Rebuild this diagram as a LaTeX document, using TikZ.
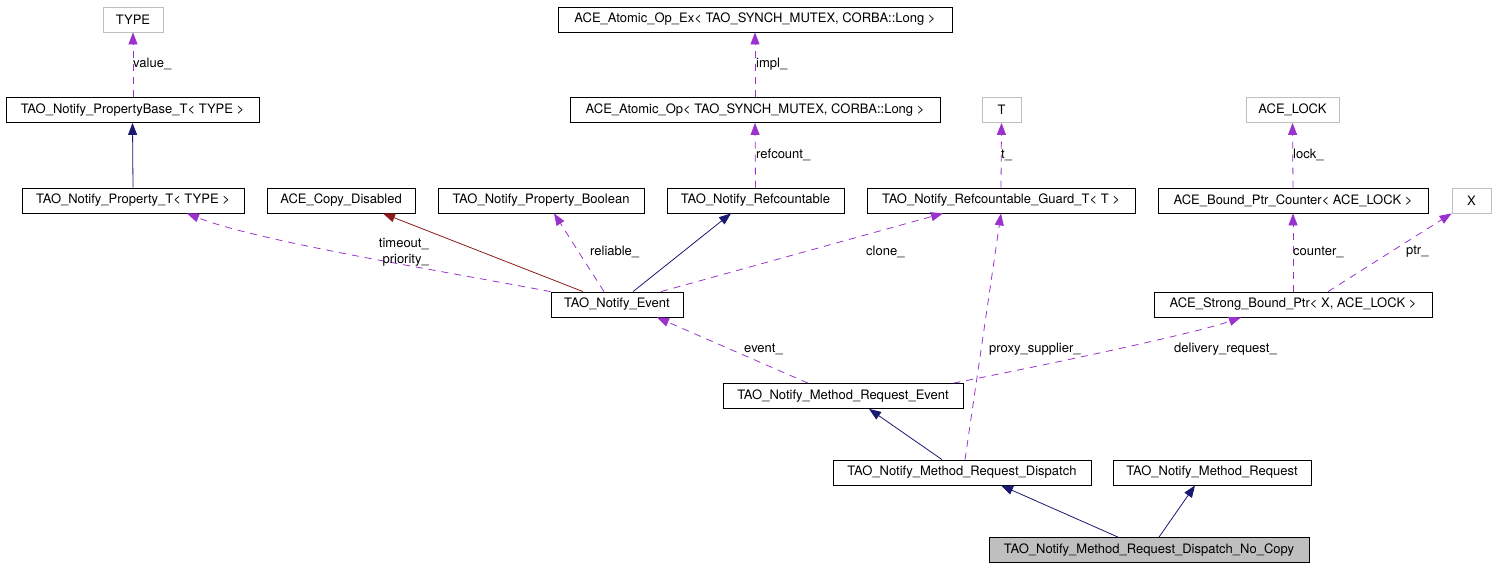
\documentclass[tikz,border=0pt]{standalone}
\usepackage{fontspec}
\setmainfont{TeX Gyre Heros}
\usetikzlibrary{arrows.meta}
\definecolor{usecol}{RGB}{154,50,205}
\definecolor{inhcol}{RGB}{25,25,112}
\definecolor{privcol}{RGB}{139,26,26}
\definecolor{extcol}{RGB}{191,191,191}

\begin{document}
\begin{tikzpicture}[x=1pt,y=-1pt,
        >={Triangle[length=12pt,width=9pt]},
        cls/.style={draw,rectangle,minimum height=25pt,inner sep=0pt,line width=0.8pt,
                font=\fontsize{13}{15}\selectfont},
        ext/.style={cls,draw=extcol},
        usage/.style={->,usecol,line width=0.8pt,dash pattern=on 7pt off 6pt},
        inherit/.style={->,inhcol,line width=0.8pt},
        private/.style={->,privcol,line width=0.8pt},
        lbl/.style={font=\fontsize{13}{16}\selectfont,text=black,inner sep=0pt}]
        \useasboundingbox (0,0) rectangle (1499,568);

        % top row
        \node[ext,minimum width=60pt]  (type) at (133,19.5)  {TYPE};
        \node[cls,minimum width=394pt] (opex) at (755,19.5)  {ACE\_Atomic\_Op\_Ex< TAO\_SYNCH\_MUTEX, CORBA::Long >};

        % second row
        \node[cls,minimum width=253pt] (pbase) at (132.5,110) {TAO\_Notify\_PropertyBase\_T< TYPE >};
        \node[cls,minimum width=370pt] (op)    at (755,110)   {ACE\_Atomic\_Op< TAO\_SYNCH\_MUTEX, CORBA::Long >};
        \node[ext,minimum width=39pt]  (t)     at (1001.5,110) {T};
        \node[ext,minimum width=93pt]  (lock)  at (1292.5,110) {ACE\_LOCK};

        % third row
        \node[cls,minimum width=222pt] (propt)    at (133,200.5)    {TAO\_Notify\_Property\_T< TYPE >};
        \node[cls,minimum width=148pt] (copydis)  at (341,200.5)    {ACE\_Copy\_Disabled};
        \node[cls,minimum width=206pt] (propbool) at (541,200.5)    {TAO\_Notify\_Property\_Boolean};
        \node[cls,minimum width=177pt] (refc)     at (755.5,200.5)  {TAO\_Notify\_Refcountable};
        \node[cls,minimum width=268pt] (guard)    at (1001,200.5)   {TAO\_Notify\_Refcountable\_Guard\_T< T >};
        \node[cls,minimum width=270pt] (counter)  at (1293,200.5)   {ACE\_Bound\_Ptr\_Counter< ACE\_LOCK >};
        \node[ext,minimum width=39pt]  (x)        at (1471.5,200.5) {X};

        % middle
        \node[cls,minimum width=132pt] (event)  at (617,304.5)  {TAO\_Notify\_Event};
        \node[cls,minimum width=278pt] (strong) at (1293,304.5) {ACE\_Strong\_Bound\_Ptr< X, ACE\_LOCK >};
        \node[cls,minimum width=240pt] (mreqev) at (843,396)    {TAO\_Notify\_Method\_Request\_Event};

        % bottom
        \node[cls,minimum width=258pt] (dispatch) at (962,472.5)  {TAO\_Notify\_Method\_Request\_Dispatch};
        \node[cls,minimum width=198pt] (mreq)     at (1212,472.5) {TAO\_Notify\_Method\_Request};
        \node[cls,minimum width=320pt,fill=extcol] (nocopy) at (1149,550) {TAO\_Notify\_Method\_Request\_Dispatch\_No\_Copy};

        % inheritance
        \draw[inherit] (propt.north) -- (pbase.south);
        \draw[inherit] ([xshift=16pt]event.north) -- ([xshift=-24.5pt]refc.south);
        \draw[inherit] ([xshift=-20pt]dispatch.north) -- ([xshift=26pt]mreqev.south);
        \draw[inherit] ([xshift=-31pt]nocopy.north) -- ([xshift=39pt]dispatch.south);
        \draw[inherit] ([xshift=10pt]nocopy.north) -- ([xshift=-17pt]mreq.south);
        \draw[private] ([xshift=-34pt]event.north) -- ([xshift=42pt]copydis.south);

        % usage
        \draw[usage] ([xshift=0.5pt]pbase.north) -- (type.south);
        \draw[usage] (op.north) -- (opex.south);
        \draw[usage] (refc.north) -- (op.south);
        \draw[usage] (guard.north) -- (t.south);
        \draw[usage] (counter.north) -- (lock.south);
        \draw[usage] (strong.north) -- (counter.south);
        \draw[usage] ([xshift=35pt]strong.north) -- (x.south west);
        \draw[usage] (event.north west) .. controls (431,269) and (257,241) .. ([xshift=54pt]propt.south);
        \draw[usage] ([xshift=-13pt]event.north) -- ([xshift=13pt]propbool.south);
        \draw[usage] ([xshift=44pt]event.north) -- ([xshift=-58pt]guard.south);
        \draw[usage] ([xshift=-35pt]mreqev.north) -- ([xshift=40pt]event.south);
        \draw[usage] ([xshift=-10pt]mreqev.north east) .. controls (1030,368) and (1190,335) .. ([xshift=-52pt]strong.south);
        \draw[usage] ([xshift=3pt]dispatch.north) -- (guard.south);

        % labels
        \node[lbl,anchor=west] (lvalue)    at (133,64)   {value\_};
        \node[lbl,anchor=west] (limpl)     at (756,64)   {impl\_};
        \node[lbl,anchor=west] (lrefcount) at (756,155)  {refcount\_};
        \node[lbl,anchor=west] (lt)        at (1001,155) {t\_};
        \node[lbl,anchor=west] (llock)     at (1293,155) {lock\_};
        \node[lbl,anchor=east,align=right] (ltimeout) at (429,252) {timeout\_\\priority\_};
        \node[lbl,anchor=west] (lreliable) at (590,252)  {reliable\_};
        \node[lbl,anchor=west] (lclone)    at (866,252)  {clone\_};
        \node[lbl,anchor=west] (lcounter)  at (1293,252) {counter\_};
        \node[lbl,anchor=west] (lptr)      at (1406,252) {ptr\_};
        \node[lbl,anchor=west] (levent)    at (744,349)  {event\_};
        \node[lbl,anchor=west] (lproxy)    at (989,349)  {proxy\_supplier\_};
        \node[lbl,anchor=west] (ldelivery) at (1174,349) {delivery\_request\_};
\end{tikzpicture}
\end{document}
